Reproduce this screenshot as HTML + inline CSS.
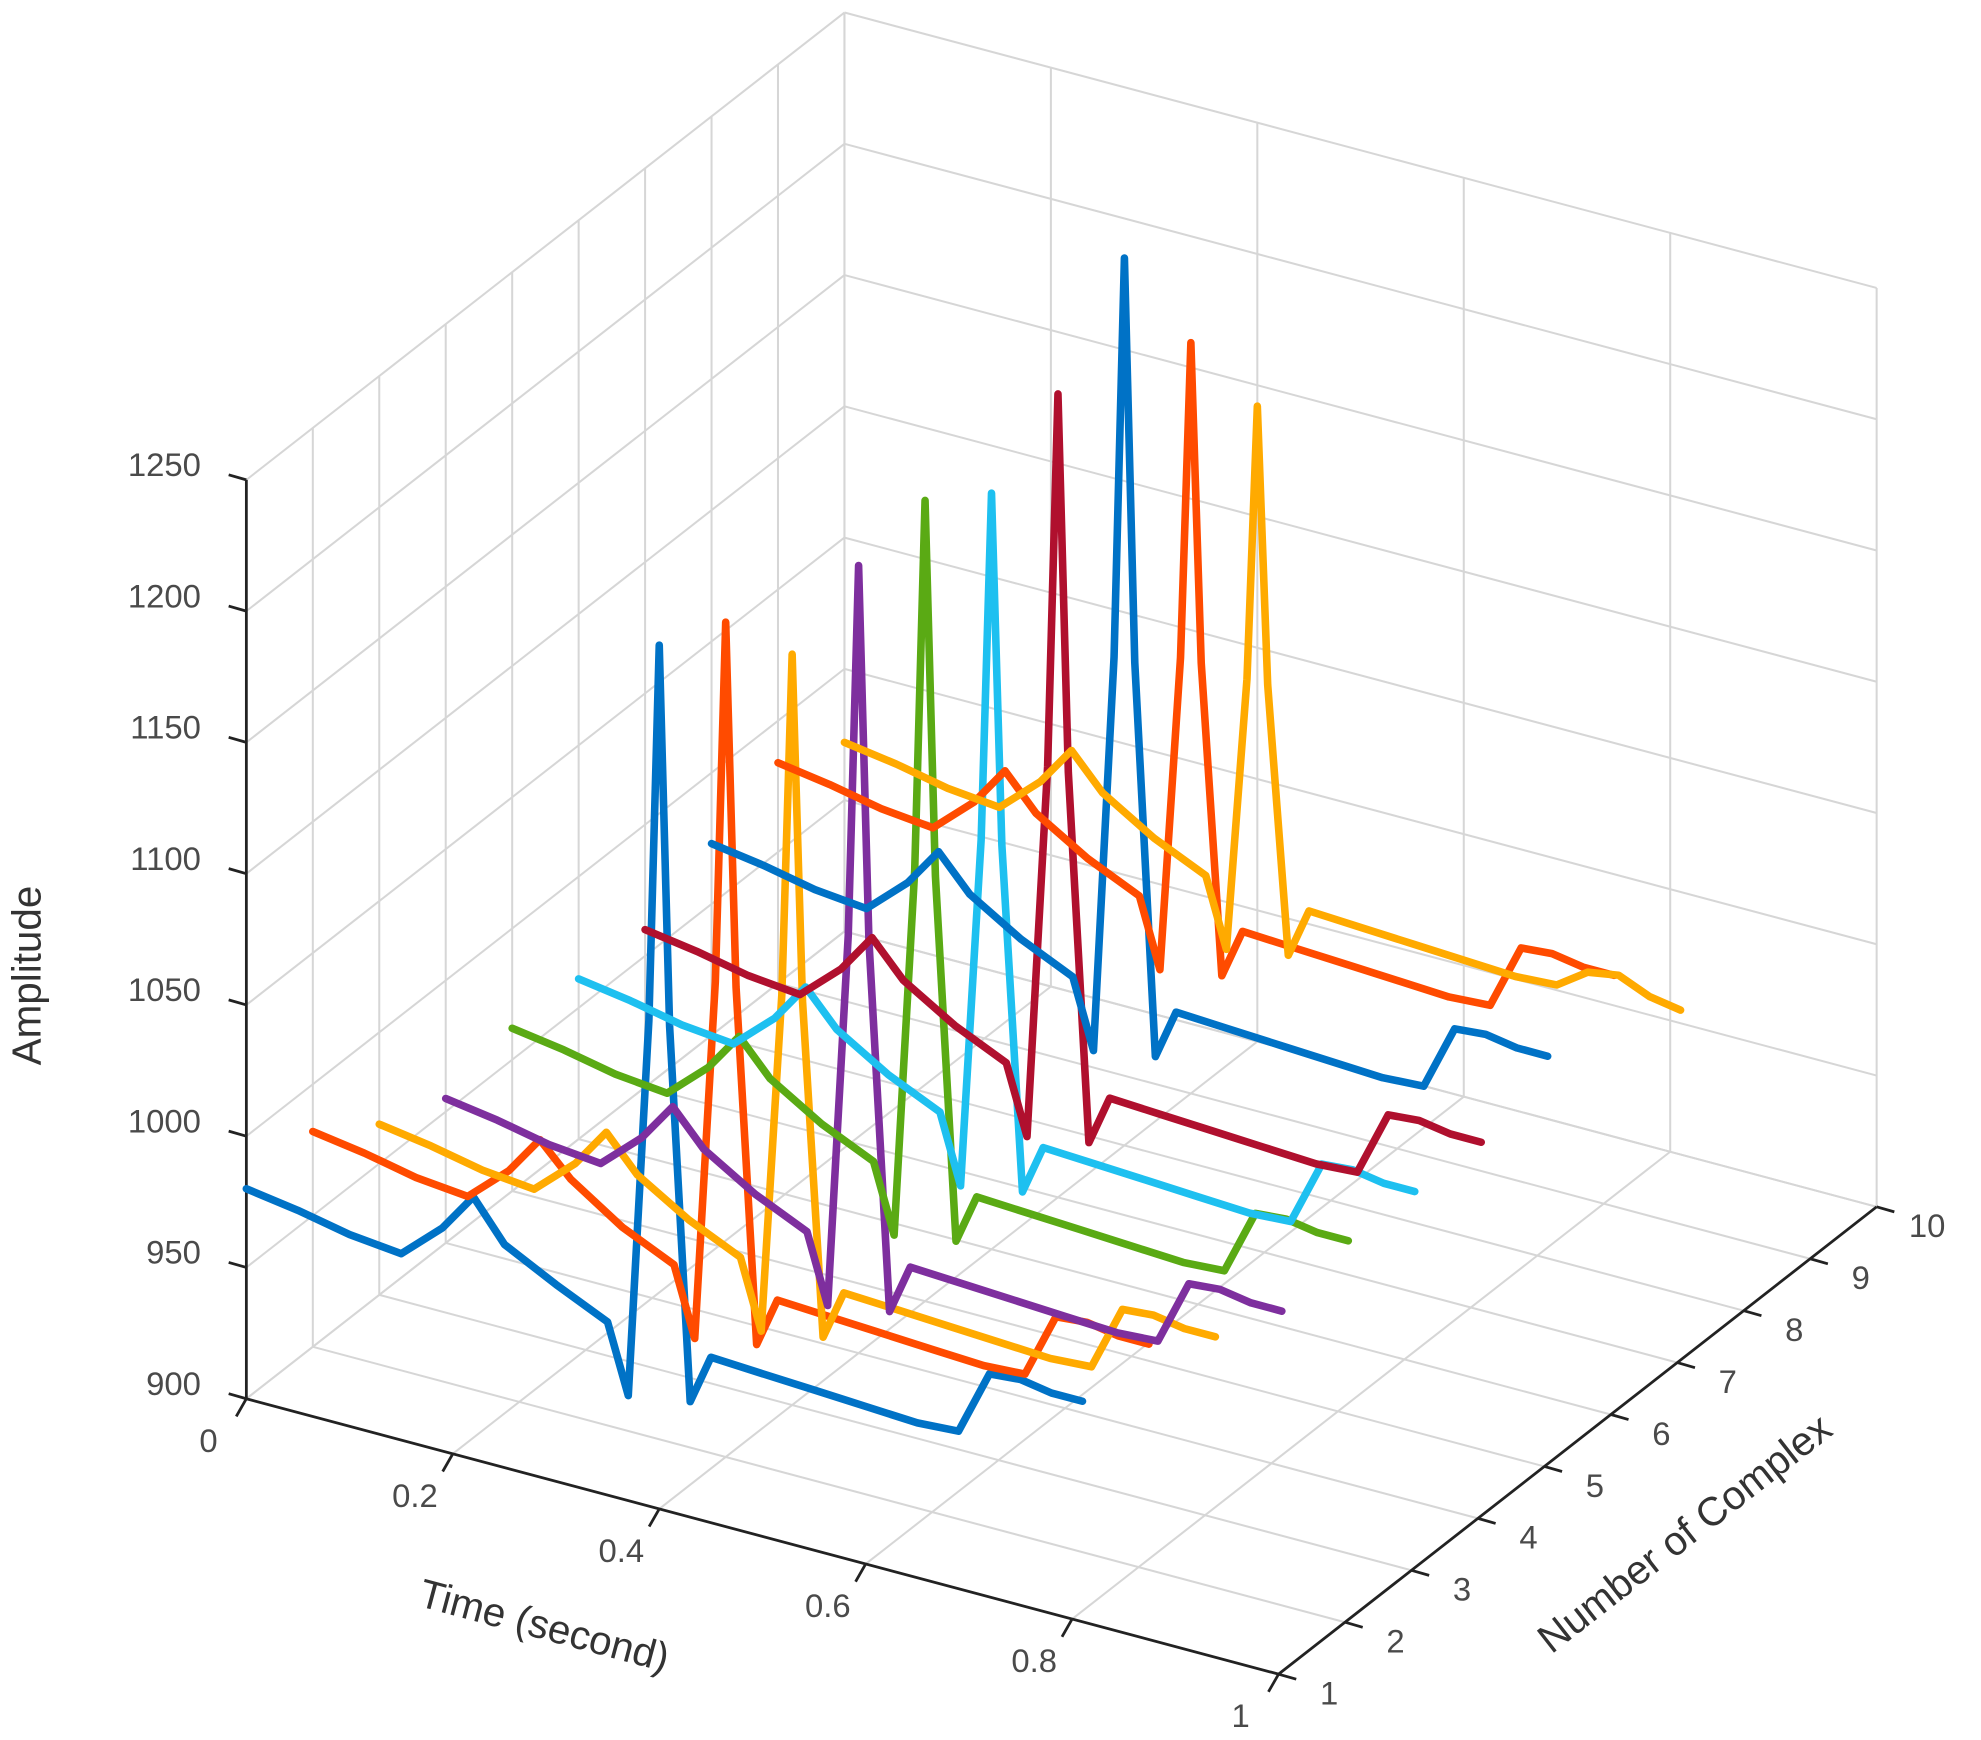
<!DOCTYPE html>
<html><head><meta charset="utf-8"><style>
html,body{margin:0;padding:0;background:#fff;}
svg{display:block;}
text{font-family:"Liberation Sans",sans-serif;fill:#4a4a4a;}
</style></head><body>
<svg id="chart" width="1981" height="1740" viewBox="0 0 1568 1377" xmlns="http://www.w3.org/2000/svg">
<g id="grid"></g>
<g id="axes"></g>
<g id="series"></g>
<text x="32" y="772" font-size="32" text-anchor="middle" transform="rotate(-90 32 772)" style="fill:#333">Amplitude</text>
<text x="428" y="1297" font-size="32" text-anchor="middle" transform="rotate(15 428 1297)" style="fill:#333">Time (second)</text>
<text x="1340" y="1222" font-size="32" text-anchor="middle" transform="rotate(-38 1340 1222)" style="fill:#333">Number of Complex</text>
</svg>
<script>
const times=[0,0.05,0.10,0.15,0.19,0.22,0.25,0.30,0.35,0.37,0.39,0.40,0.41,0.43,0.45,0.50,0.55,0.60,0.65,0.69,0.72,0.75,0.78,0.81];
const s1=[980,977,973,971,985,1000,985,975,966,940,1085,1229,1085,944,963,962,961,960,959,960,985,986,984,984];
const s2=[982,979,975,973,987,1002,990,977,968,942,1080,1218,1080,946,965,964,963,962,961,962,987,988,986,986];
const s3=[965,962,958,956,970,985,972,960,951,925,1055,1186,1055,929,948,947,946,945,944,945,970,971,969,969];
const s4=[955,952,948,946,960,975,962,950,941,915,1058,1200,1058,919,938,937,936,935,934,935,960,961,959,959];
const s5=[962,959,955,953,967,982,969,957,948,922,1063,1205,1063,926,945,944,943,942,941,942,967,968,966,966];
const s6=[961,958,954,952,966,981,968,956,947,921,1055,1188,1055,925,944,943,942,941,940,941,966,967,965,965];
const s7=[960,957,953,951,965,980,967,955,946,920,1063,1206,1063,924,943,942,941,940,939,940,965,966,964,964];
const s8=[973,970,966,964,978,993,980,968,959,933,1085,1238,1085,937,956,955,954,953,952,953,978,979,977,977];
const s9=[984,981,977,975,989,1004,991,979,970,944,1065,1186,1065,948,967,966,965,964,963,964,989,990,988,988];
const s10=[972,969,965,963,977,992,979,967,958,932,1037,1142,1037,936,955,954,953,952,951,952,960,962,957,955];
const seriesData=[s1,s2,s3,s4,s5,s6,s7,s8,s9,s10];
const colors=["#0072C6","#FF4B00","#FFAA00","#7E2F9E","#5AAA14","#1EC0F0","#B0102E","#0072C6","#FF4B00","#FFAA00"];
const zTicks=[900,950,1000,1050,1100,1150,1200,1250];
const tTicks=[0,0.2,0.4,0.6,0.8,1];
const tTickLabels=["0","0.2","0.4","0.6","0.8","1"];
const nTicks=[1,2,3,4,5,6,7,8,9,10];

const NS="http://www.w3.org/2000/svg";
function px(t,n,z){return 195+t*817+(n-1)*52.6;}
function py(t,n,z){return 1107+t*218-(n-1)*41.1-(z-900)*2.078;}
function line(g,x1,y1,x2,y2,stroke,w){
  const l=document.createElementNS(NS,'line');
  l.setAttribute('x1',x1);l.setAttribute('y1',y1);l.setAttribute('x2',x2);l.setAttribute('y2',y2);
  l.setAttribute('stroke',stroke);l.setAttribute('stroke-width',w);
  g.appendChild(l);return l;
}
function txt(g,x,y,s,anchor){
  const e=document.createElementNS(NS,'text');
  e.setAttribute('x',x);e.setAttribute('y',y);e.setAttribute('font-size','26');
  e.setAttribute('text-anchor',anchor);e.textContent=s;g.appendChild(e);return e;
}
const grid=document.getElementById('grid');
const gc="#d6d6d6", gw=1.6;
tTicks.forEach(t=>{const l=line(grid,px(t,10,900),py(t,10,900),px(t,10,1250),py(t,10,1250),gc,gw);

});
zTicks.forEach(z=>{const l=line(grid,px(0,10,z),py(0,10,z),px(1,10,z),py(1,10,z),gc,gw);

});
nTicks.forEach(n=>{const l=line(grid,px(0,n,900),py(0,n,900),px(0,n,1250),py(0,n,1250),gc,gw);

});
zTicks.forEach(z=>{const l=line(grid,px(0,1,z),py(0,1,z),px(0,10,z),py(0,10,z),gc,gw);

});
tTicks.forEach(t=>{const l=line(grid,px(t,1,900),py(t,1,900),px(t,10,900),py(t,10,900),gc,gw);

});
nTicks.forEach(n=>{const l=line(grid,px(0,n,900),py(0,n,900),px(1,n,900),py(1,n,900),gc,gw);

});

const axes=document.getElementById('axes');
const ac="#222", aw=2.2;
let a=line(axes,px(0,1,900),py(0,1,900),px(0,1,1250),py(0,1,1250),ac,aw);


a=line(axes,px(0,1,900),py(0,1,900),px(1,1,900),py(1,1,900),ac,aw);


a=line(axes,px(1,1,900),py(1,1,900),px(1,10,900),py(1,10,900),ac,aw);


zTicks.forEach(z=>{
  const x=px(0,1,z),y=py(0,1,z);
  line(axes,x,y,x-14,y-4,ac,aw);
  const e=txt(axes,x-36,y-3,String(z),'end');
  
  
});
tTicks.forEach((t,i)=>{
  const x=px(t,1,900),y=py(t,1,900);
  line(axes,x,y,x-8,y+14,ac,aw);
  const e=txt(axes,x-30,y+42,tTickLabels[i],'middle');
  
  
});
nTicks.forEach(n=>{
  const x=px(1,n,900),y=py(1,n,900);
  line(axes,x,y,x+14,y+4,ac,aw);
  const e=txt(axes,x+40,y+24,String(n),'middle');
  
  
});

const sg=document.getElementById('series');
seriesData.forEach((arr,i)=>{
  const n=i+1;
  const pts=arr.map((z,k)=>px(times[k],n,z).toFixed(1)+','+py(times[k],n,z).toFixed(1)).join(' ');
  const p=document.createElementNS(NS,'polyline');
  p.setAttribute('points',pts);
  p.setAttribute('fill','none');
  p.setAttribute('stroke',colors[i]);
  p.setAttribute('stroke-width','6');
  p.setAttribute('stroke-linejoin','round');
  p.setAttribute('stroke-linecap','round');
  
  
  sg.appendChild(p);
});
</script>
</body></html>
